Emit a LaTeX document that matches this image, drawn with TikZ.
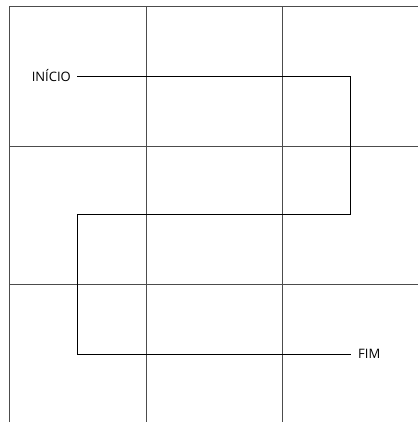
\documentclass[tikz,border=0pt]{standalone}
\usepackage{fontspec}
\setmainfont{Open Sans}
\begin{document}
\begin{tikzpicture}[x=1pt,y=-1pt,
  gridline/.style={draw=black!70,line width=1pt},
  pathline/.style={draw=black,line width=1pt},
  lbl/.style={font=\fontsize{13}{15}\selectfont,inner sep=0pt}]
\useasboundingbox (0,0) rectangle (418,423);
% grid
\draw[gridline] (9,422) -- (9,6.5) -- (418,6.5);
\draw[gridline] (9,146) -- (418,146);
\draw[gridline] (9,284.5) -- (418,284.5);
\draw[gridline] (146,6.5) -- (146,422);
\draw[gridline] (282.5,6.5) -- (282.5,422);
% labels
\node[lbl,anchor=east] (ini) at (71,76) {INÍCIO};
\node[lbl,anchor=west] (fim) at (358,354) {FIM};
\coordinate (a) at (77,76);
\coordinate (b) at (351,354);
\draw[pathline] (a) -- (350.5,76) -- (350.5,214) -- (77,214) -- (77,354) -- (b);
\end{tikzpicture}
\end{document}
